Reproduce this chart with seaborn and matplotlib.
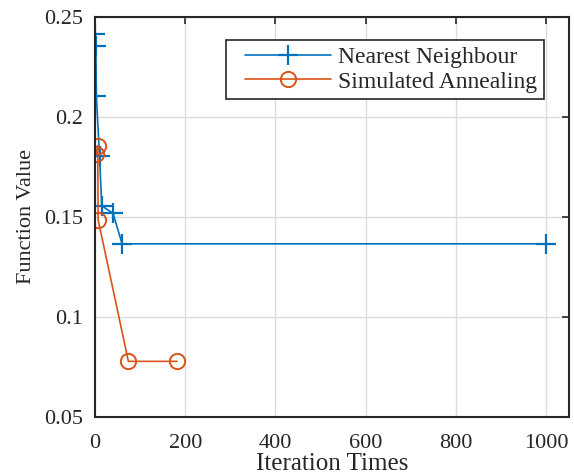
import pandas as pd
import seaborn as sns
import matplotlib.pyplot as plt
from matplotlib.lines import Line2D
from matplotlib.legend_handler import HandlerLine2D

# Dados
nn_iter = [1, 2, 3, 10, 15, 40, 60, 1000]
nn_valor = [0.2415, 0.2355, 0.2105, 0.1805, 0.1555, 0.1518, 0.1365, 0.1365]
sa_iter = [2, 6, 7, 74, 182]
sa_valor = [0.1813, 0.1857, 0.1485, 0.0777, 0.0777]

azul = "#0072BD"
laranja = "#D95319"


# linha da legenda começa um pouco mais à direita (estilo MATLAB)
class HandlerDesloc(HandlerLine2D):
    def create_artists(self, legend, orig_handle, xdescent, ydescent, width, height, fontsize, trans):
        off = 0.55 * fontsize
        return super().create_artists(legend, orig_handle, xdescent - off, ydescent,
                                      width - off, height, fontsize, trans)


sns.set_style("white")
plt.rcParams['font.family'] = ['Liberation Serif', 'DejaVu Serif']

fig = plt.figure(figsize=(5.74, 4.75), dpi=100)
ax = fig.add_axes([0.1655, 0.1227, 0.8258, 0.8415])

ax.grid(True, color="#dcdcdc", linewidth=1.0)
ax.set_axisbelow(True)

sns.lineplot(x=nn_iter, y=nn_valor, ax=ax, sort=False, color=azul, linewidth=1.2,
             marker='+', markersize=14, markeredgewidth=1.6, markeredgecolor=azul,
             label="Nearest Neighbour")
sns.lineplot(x=sa_iter, y=sa_valor, ax=ax, sort=False, color=laranja, linewidth=1.2,
             marker='o', markersize=11, markerfacecolor='none', markeredgecolor=laranja,
             markeredgewidth=1.4, label="Simulated Annealing")

ax.set_xlim(0, 1051)
ax.set_ylim(0.05, 0.25)
ax.set_xticks([0, 200, 400, 600, 800, 1000])
ax.set_yticks([0.05, 0.1, 0.15, 0.2, 0.25])
ax.set_yticklabels(["0.05", "0.1", "0.15", "0.2", "0.25"])
ax.tick_params(direction='in', length=5, width=1.2, top=True, right=True,
               labelsize=16, colors="#262626")
ax.tick_params(axis='x', pad=12.5)
ax.tick_params(axis='y', pad=8.5)
for s in ax.spines.values():
    s.set_color("#262626")
    s.set_linewidth(1.5)

ax.set_xlabel("Iteration Times", fontsize=18, color="#262626", labelpad=0)
ax.set_ylabel("Function Value", fontsize=16, color="#262626", labelpad=6)

leg = ax.legend(loc="upper right", bbox_to_anchor=(0.947, 0.9425), fontsize=17,
                frameon=True, fancybox=False, edgecolor="#262626", framealpha=1,
                handlelength=4.2, borderpad=0.27, labelspacing=0.14, handletextpad=0.3,
                borderaxespad=0, handler_map={Line2D: HandlerDesloc()})
leg.get_frame().set_linewidth(1.2)

plt.savefig("out.png", dpi=100)
